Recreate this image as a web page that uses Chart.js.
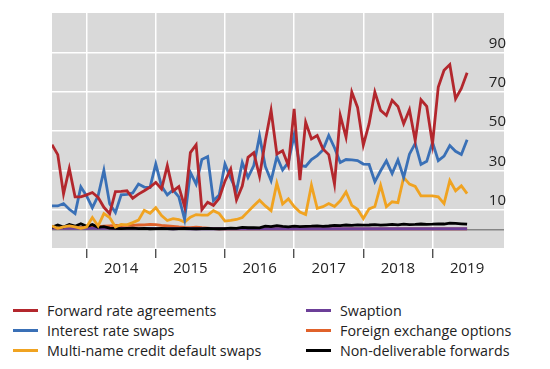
<!DOCTYPE html>
<html lang="en">
<head>
  <meta charset="UTF-8">
  <title>Trading by instrument</title>
  <style>
    body {
      margin: 0;
      background: #fff;
      font-family: "Open Sans", "Noto Sans", sans-serif;
    }
    #wrap {
      position: relative;
      width: 550px;
      height: 369px;
    }
    #chartCanvas {
      position: absolute;
      left: 0;
      top: 0;
    }
    #legend {
      position: absolute;
      left: 13px;
      top: 300px;
      display: grid;
      grid-template-columns: 293px auto;
      grid-auto-rows: 20.3px;
      font-size: 14.3px;
      color: #222;
    }
    .item {
      display: flex;
      align-items: center;
      white-space: nowrap;
    }
    .swatch {
      width: 25px;
      height: 3px;
      margin-right: 9px;
    }
  </style>
  <script src="https://cdn.jsdelivr.net/npm/chart.js"></script>
</head>
<body>
  <div id="wrap">
    <canvas id="chartCanvas" width="550" height="290"></canvas>
    <div id="legend"></div>
  </div>

  <script>
    // monthly observations, Jul 2013 to Jul 2019
    const months = [];
    for (let y = 2013; y <= 2019; y++) {
      for (let m = 1; m <= 12; m++) {
        if ((y === 2013 && m < 7) || (y === 2019 && m > 7)) continue;
        months.push(y + '-' + String(m).padStart(2, '0'));
      }
    }

    // year boundaries (months since Jul 2013) and their labels
    const yearStarts = [6, 18, 30, 42, 54, 66];
    const yearLabels = ['2014', '2015', '2016', '2017', '2018', '2019'];
    const yTicks = [0, 10, 30, 50, 70, 90];

    const fra = [43, 38, 18, 31, 16.5, 16.5, 17.5, 18.7, 16.2, 11.2, 8, 19.2, 19.3, 19.6, 15.8, 17.9, 19.6, 21.5, 23.9,
      20.5, 32.4, 19.5, 21.7, 11.5, 39, 43, 10, 13.8, 12.2, 15.8, 24.5, 30.7, 15, 22, 36.6, 39, 27, 45, 60.5, 38.3,
      40, 32.4, 61.3, 25, 54.5, 46, 47.7, 40.9, 38, 23, 57.9, 46.8, 69.8, 62, 42.8, 53.7, 69.8, 60.5, 57.9, 65.6,
      62.5, 53.7, 60.8, 45.1, 65.9, 62.5, 43.4, 72.4, 80.9, 83.8, 66.4, 71.6, 79.6];
    const irs = [11.9, 11.9, 13.1, 10.2, 8, 21.6, 17, 11, 17, 30, 13, 8.5, 17.5, 17.8, 18.5, 23, 21.5, 21.3, 33.2,
      22, 17.5, 20, 16.5, 5, 29, 23, 35.5, 37, 14.5, 17.5, 33.2, 26, 19.6, 34, 26.4, 32.4, 47.5, 32, 24.7, 37,
      30.2, 34, 48, 32.5, 32, 35.5, 37.5, 40.4, 47.7, 41.5, 34, 35.5, 35.3, 35, 33.2, 33, 24.2, 29.8, 34.8, 28.4,
      35.3, 26.4, 38.2, 43.7, 33, 34.6, 44.3, 34.9, 37.2, 42.6, 39.7, 38.1, 45.6];
    const cds = [1.7, 0.5, 1.2, 1.7, 1.2, 0.5, 1.2, 6, 1.7, 8, 6, 1.2, 2.5, 2.3, 3.4, 4.7, 9.7, 8.2, 11,
      7, 4.5, 5.4, 5, 3.7, 6.2, 7.5, 7.2, 7.2, 9.5, 8, 4.2, 4.5, 5, 6, 9, 12, 14.8, 11.9, 9.5, 23.5,
      12.9, 15.5, 11.6, 8.8, 7.5, 22.4, 10.7, 11.5, 13.1, 11.6, 14.5, 19, 12.2, 10.2, 5.5, 10.4, 11.6, 22.4, 11.5, 14,
      13.6, 26.4, 23, 21.8, 17, 17, 17, 16.5, 13.1, 24.8, 19.6, 22.1, 18.2];
    const swaption = [0.6, 0.6, 0.5, 0.6, 0.5, 0.6, 0.5, 0.5, 0.6, 0.5, 0.5, 0.4, 0.5, 0.4, 0.5, 0.4, 0.4, 0.5, 0.4,
      0.4, 0.4, 0.3, 0.4, 0.4, 0.3, 0.4, 0.3, 0.3, 0.4, 0.3, 0.3, 0.3, 0.4, 0.3, 0.3, 0.3, 0.3, 0.4, 0.3, 0.3,
      0.3, 0.3, 0.3, 0.4, 0.3, 0.3, 0.3, 0.3, 0.3, 0.3, 0.4, 0.3, 0.3, 0.3, 0.3, 0.3, 0.3, 0.3, 0.4, 0.3,
      0.3, 0.3, 0.3, 0.3, 0.3, 0.3, 0.3, 0.3, 0.3, 0.3, 0.3, 0.3, 0.3];
    const fxOptions = [0.8, 0.6, 0.9, 0.7, 1.0, 0.8, 1.2, 1.5, 1.4, 1.6, 1.8, 2.0, 1.9, 2.1, 2.0, 2.2, 2.3, 2.5, 2.4,
      2.0, 1.8, 1.5, 1.2, 1.0, 0.9, 1.1, 0.8, 0.6, 0.4, 0.3, 0.2, 0.3, 0.2, 0.2, 0.3, 0.2, 0.2, 0.2, 0.3, 0.2,
      0.2, 0.2, 0.2, 0.2, 0.3, 0.2, 0.2, 0.2, 0.2, 0.2, 0.2, 0.2, 0.3, 0.2, 0.2, 0.2, 0.2, 0.2, 0.2, 0.2,
      0.2, 0.2, 0.2, 0.2, 0.2, 0.2, 0.2, 0.2, 0.2, 0.2, 0.2, 0.2, 0.2];
    const ndf = [1.0, 2.2, 1.2, 2.5, 1.6, 2.8, 1.5, 2.4, 1.0, 1.4, 0.6, 0.5, 0.4, 0.5, 0.6, 0.4, 0.5, 0.3, 0.4,
      0.5, 0.4, 0.3, 0.4, 0.5, 0.4, 0.3, 0.4, 0.5, 0.4, 0.3, 0.4, 0.6, 0.5, 1.0, 0.8, 0.9, 0.7, 1.6, 1.4, 1.9,
      1.5, 1.3, 1.6, 1.4, 1.5, 1.6, 1.8, 1.5, 1.7, 2.0, 1.9, 2.2, 2.0, 2.3, 2.1, 2.2, 2.4, 2.1, 2.3, 2.5,
      2.3, 2.6, 2.4, 2.5, 2.7, 2.5, 2.6, 2.8, 2.7, 3.2, 3.0, 2.8, 2.6];

    const seriesNames = ['Forward rate agreements', 'Interest rate swaps', 'Multi-name credit default swaps',
      'Swaption', 'Foreign exchange options', 'Non-deliverable forwards'];
    const seriesColors = ['#b3272d', '#3a70b6', '#f0a321', '#6c3f98', '#e0622b', '#000000'];
    const seriesValues = [fra, irs, cds, swaption, fxOptions, ndf];
    const drawOrder = [0, 1, 2, 4, 5, 3]; // lower number drawn on top

    // month string -> months since Jul 2013
    function monthIndex(s) {
      const [y, m] = s.split('-').map(Number);
      return (y - 2013) * 12 + (m - 7);
    }

    // grey panel behind the plot
    const plotBackground = {
      id: 'plotBackground',
      beforeDraw(chart) {
        const { ctx, chartArea: a } = chart;
        ctx.save();
        ctx.fillStyle = '#d9d9d9';
        ctx.fillRect(a.left, a.top, a.right - a.left, a.bottom - a.top - 1);
        ctx.restore();
      }
    };

    const datasets = seriesNames.map((name, i) => ({
      label: name,
      data: seriesValues[i].map((v, j) => ({ x: monthIndex(months[j]), y: v })),
      borderColor: seriesColors[i],
      borderWidth: 2.8,
      pointRadius: 0,
      tension: 0,
      fill: false,
      order: drawOrder[i]
    }));

    new Chart(document.getElementById('chartCanvas'), {
      type: 'line',
      data: { datasets },
      plugins: [plotBackground],
      options: {
        responsive: false,
        animation: false,
        devicePixelRatio: 1,
        layout: { padding: { left: 52, right: 42, top: 13, bottom: 10 } },
        plugins: {
          legend: { display: false },
          tooltip: { enabled: false }
        },
        scales: {
          x: {
            type: 'linear',
            min: 0,
            max: 78.4,
            afterBuildTicks: axis => { axis.ticks = yearStarts.map(v => ({ value: v })); },
            ticks: {
              autoSkip: false,
              maxRotation: 0,
              callback: (v, i) => yearLabels[i],
              labelOffset: 34.6,
              padding: 2,
              color: '#222',
              font: { family: '"Open Sans", sans-serif', size: 15 }
            },
            grid: {
              color: '#ffffff',
              lineWidth: 1.5,
              tickColor: '#333',
              tickLength: 9,
              tickWidth: 1.2
            },
            border: { display: false }
          },
          y: {
            position: 'right',
            min: -10,
            max: 110,
            afterBuildTicks: axis => { axis.ticks = yTicks.map(v => ({ value: v })); },
            ticks: {
              mirror: true,
              padding: 2,
              labelOffset: -9,
              callback: v => (v === 0 ? '' : v),
              color: '#222',
              font: { family: '"Open Sans", sans-serif', size: 15 }
            },
            grid: {
              color: c => (c.tick && c.tick.value === 0 ? '#858585' : '#ffffff'),
              lineWidth: 1.5,
              drawTicks: false
            },
            border: { display: false }
          }
        }
      }
    });

    // two-column legend, filled row by row
    const legendOrder = [0, 3, 1, 4, 2, 5];
    const legend = document.getElementById('legend');
    legendOrder.forEach(i => {
      const item = document.createElement('div');
      item.className = 'item';
      item.innerHTML = '<span class="swatch" style="background:' + seriesColors[i] + '"></span>' + seriesNames[i];
      legend.appendChild(item);
    });
  </script>
</body>
</html>
